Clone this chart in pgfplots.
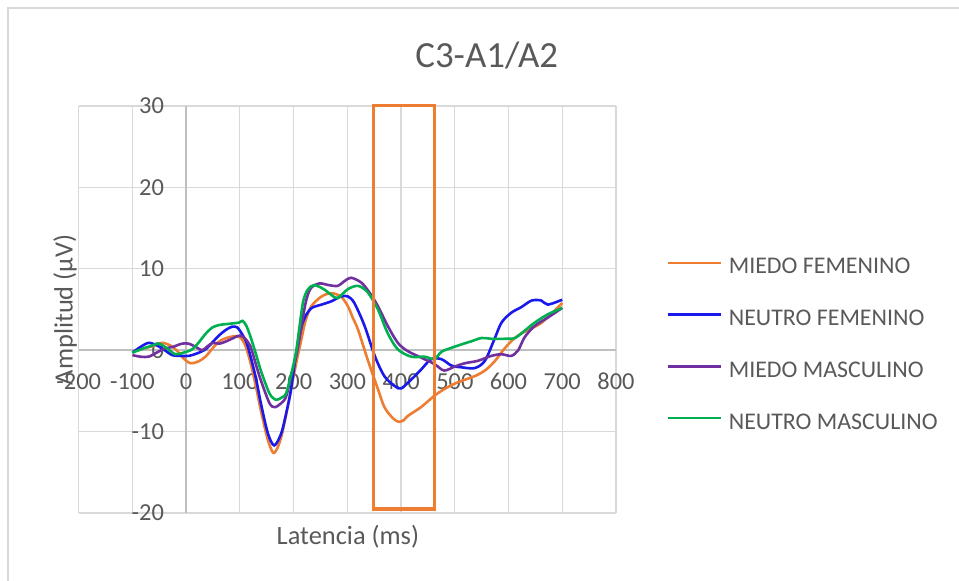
\documentclass[border=0pt]{standalone}
\usepackage{pgfplots}
\pgfplotsset{compat=1.18}
\usepackage{pgfplotstable}
\usepackage{fontspec}
\setmainfont{Carlito}

\definecolor{txtgray}{RGB}{89,89,89}
\definecolor{gridgray}{RGB}{217,217,217}
\definecolor{axisgray}{RGB}{191,191,191}
\definecolor{cOrange}{RGB}{237,125,49}
\definecolor{cBlue}{RGB}{25,25,235}
\definecolor{cPurple}{RGB}{112,48,160}
\definecolor{cGreen}{RGB}{0,176,80}

% Promedios de potenciales evocados, derivacion C3-A1/A2
\pgfplotstableread{
x y
-100 -0.2
-80 0.2
-62 0.5
-45 0.9
-30 0.6
-18 0.0
-5 -1.0
8 -1.6
22 -1.4
36 -0.8
50 0.3
62 1.1
75 1.5
88 1.7
100 1.6
110 0.6
120 -1.6
130 -4.5
139 -7.4
152 -11.0
162 -12.6
170 -12.0
178 -10.4
187 -7.6
196 -4.5
206 -1.2
214 1.2
222 3.6
233 5.4
252 6.6
270 7.0
288 6.6
301 5.4
310 4.0
320 2.5
338 -1.2
357 -4.8
369 -7.0
384 -8.3
395 -8.8
405 -8.6
412 -8.1
437 -7.0
462 -5.6
480 -4.8
500 -4.1
520 -3.6
540 -3.1
558 -2.4
575 -1.3
590 0.0
605 1.1
620 1.9
640 2.6
660 3.3
680 4.5
700 5.8
}\miedofem

\pgfplotstableread{
x y
-100 -0.3
-85 0.4
-70 0.9
-55 0.6
-40 0.0
-26 -0.6
-10 -0.7
5 -0.7
20 -0.4
36 0.1
48 0.9
61 1.8
74 2.5
86 2.9
95 2.8
102 2.2
112 1.0
120 -0.8
130 -3.5
139 -6.5
152 -10.2
164 -11.7
177 -10.2
187 -7.5
195 -4.9
205 -0.3
217 3.4
232 5.1
252 5.6
270 6.0
288 6.6
301 6.6
313 5.8
332 3.0
351 -0.7
369 -3.2
388 -4.4
400 -4.7
419 -3.6
437 -2.4
456 -1.1
475 -1.1
494 -1.9
512 -2.1
537 -2.2
556 -1.3
574 1.4
587 3.4
605 4.6
624 5.3
643 6.1
661 6.1
673 5.6
700 6.2
}\neutrofem

\pgfplotstableread{
x y
-100 -0.6
-85 -0.8
-70 -0.8
-55 -0.3
-40 0.2
-25 0.4
-8 0.8
5 0.8
18 0.4
30 0.0
40 0.5
50 0.9
62 0.8
75 1.1
88 1.5
100 1.8
110 1.4
120 0.4
130 -1.8
139 -3.7
155 -6.5
165 -7.0
177 -6.5
186 -5.7
196 -3.0
207 0.0
222 5.7
232 7.6
248 8.2
265 8.0
282 7.9
295 8.5
307 8.9
326 8.3
341 7.1
357 5.4
375 3.0
394 0.9
412 -0.1
437 -0.9
462 -1.7
480 -2.5
500 -2.0
519 -1.6
543 -1.3
568 -0.7
587 -0.5
605 -0.7
618 0.0
630 1.6
649 3.0
673 4.0
700 5.2
}\miedomas

\pgfplotstableread{
x y
-100 -0.3
-80 0.2
-62 0.6
-50 0.8
-35 0.2
-20 -0.5
-5 -0.3
11 0.1
24 1.0
36 2.0
49 2.8
62 3.1
74 3.2
88 3.3
99 3.4
105 3.6
112 3.0
120 1.6
130 -0.5
139 -2.5
155 -5.3
167 -6.1
178 -5.8
186 -5.3
196 -2.8
205 0.0
217 5.7
226 7.4
238 8.0
256 7.5
270 6.8
282 6.4
301 7.5
320 7.9
338 7.1
357 5.0
375 2.1
394 0.1
419 -0.8
444 -0.8
462 -1.1
475 -0.2
494 0.3
512 0.7
531 1.1
550 1.5
568 1.4
593 1.4
612 1.5
630 2.4
649 3.4
673 4.4
700 5.2
}\neutromas

\begin{document}
\begin{tikzpicture}[x=1bp,y=1bp]
\path[use as bounding box] (0,0) rectangle (959,581);
% marco del area del grafico
\draw[gridgray, line width=1.5bp] (8,-2) -- (8,573) -- (961,573);

\begin{axis}[
  at={(78.7bp,68bp)}, anchor=south west,
  scale only axis,
  width=537.3bp, height=407bp,
  xmin=-200, xmax=800, ymin=-20, ymax=30,
  axis lines=middle,
  axis line style={axisgray, line width=1.4bp, -},
  hide obscured x ticks=false,
  hide obscured y ticks=false,
  xtick={-200,-100,0,100,200,300,400,500,600,700,800},
  xticklabels={-200,-100,0,100,200,300,400,500,600,700,800},
  ytick={-20,-10,0,10,20,30},
  yticklabels={-20,-10,0,10,20,30},
  major tick length=0pt,
  grid=major,
  major grid style={gridgray, line width=1.2bp},
  tick label style={font=\fontsize{24.5}{24.5}\selectfont, text=txtgray, inner sep=0pt},
  xticklabel style={anchor=center, yshift=-31bp},
  yticklabel style={anchor=east, xshift=-22bp},
  xlabel={Latencia (ms)},
  ylabel={Amplitud (µV)},
  xlabel style={at={(axis description cs:0.501,-0.059)}, anchor=center, inner sep=0pt,
    font=\fontsize{26.5}{26.5}\selectfont, text=txtgray},
  ylabel style={at={(axis description cs:-0.0255,0.499)}, anchor=center, rotate=90, inner sep=0pt,
    font=\fontsize{26.5}{26.5}\selectfont, text=txtgray},
  clip=false,
  legend cell align=left,
  legend style={
    at={(axis description cs:1.094,0.625)}, anchor=north west,
    draw=none, fill=none,
    font=\fontsize{24}{24}\selectfont, text=txtgray,
    inner sep=0pt, row sep=36.8bp,
    nodes={inner sep=0pt, text height=15bp, text depth=0pt},
    /tikz/every odd column/.append style={column sep=6.7bp},
  },
  legend image code/.code={\draw[#1, line width=2.4bp] (0bp,3.5bp) -- (53bp,3.5bp);},
  every axis plot/.append style={line width=2.6bp, smooth, tension=0.5},
]
\addplot[cOrange] table {\miedofem};
\addlegendentry{MIEDO FEMENINO}
\addplot[cBlue] table {\neutrofem};
\addlegendentry{NEUTRO FEMENINO}
\addplot[cPurple] table {\miedomas};
\addlegendentry{MIEDO MASCULINO}
\addplot[cGreen] table {\neutromas};
\addlegendentry{NEUTRO MASCULINO}
% ventana de interes alrededor de 400 ms
\draw[cOrange, line width=3.2bp] (axis cs:348.5,-19.5) rectangle (axis cs:461.5,30.1);
\end{axis}

\node[font=\fontsize{37}{37}\selectfont, text=txtgray] at (486.7,526) {C3-A1/A2};
\end{tikzpicture}
\end{document}
